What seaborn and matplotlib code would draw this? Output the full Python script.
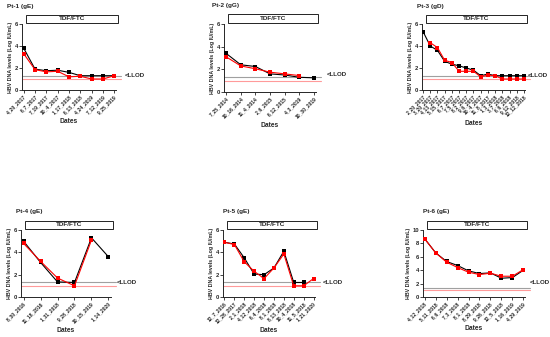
import numpy as np
import pandas as pd
import matplotlib
import matplotlib.pyplot as plt
import seaborn as sns
from matplotlib.patches import Rectangle

matplotlib.use('Agg')

# ==========================================================
# DATA
# ==========================================================
pt1_dates = ["4_20_2017", "6_7_2017", "7_19_2017", "10_4_2017", "1_17_2018",
             "6_13_2018", "4_24_2019", "7_12_2019", "9_25_2019"]
pt1_black = [3.8, 1.9, 1.75, 1.8, 1.6, 1.3, 1.3, 1.3, 1.3]
pt1_red = [3.3, 1.85, 1.65, 1.7, 1.2, 1.25, 1.0, 1.0, 1.3]

pt2_dates = ["7_25_2014", "10_16_2014", "11_4_2014", "2_6_2015", "6_12_2015",
             "4_3_2019", "10_30_2019"]
pt2_black = [3.4, 2.4, 2.25, 1.6, 1.5, 1.3, 1.25]
pt2_red = [3.1, 2.3, 2.05, 1.75, 1.6, 1.45, np.nan]

pt3_dates = ["2_20_2017", "3_20_2017", "4_13_2017", "5_15_2017", "6_7_2017",
             "7_5_2017", "8_2_2017", "9_6_2017", "10_4_2017", "11_8_2017",
             "1_3_2018", "3_7_2018", "6_6_2018", "9_12_2018", "12_12_2018"]
pt3_black = [5.3, 4.0, 3.6, 2.6, 2.35, 2.2, 2.0, 1.8, 1.3, 1.45, 1.3, 1.3, 1.3, 1.3, 1.3]
pt3_red = [np.nan, 4.3, 3.85, 2.7, 2.5, 1.7, 1.7, 1.7, 1.2, 1.35, 1.3, 1.0, 1.0, 1.0, 1.0]

pt4_dates = ["8_30_2016", "11_18_2016", "1_31_2018", "9_28_2018", "10_15_2019", "1_14_2020"]
pt4_black = [5.0, 3.1, 1.35, 1.3, 5.3, 3.6]
pt4_red = [4.8, 3.2, 1.7, 1.0, 5.1, np.nan]

pt5_dates = ["12_7_2016", "12_28_2017", "2_1_2018", "4_12_2018", "6_4_2018",
             "8_1_2018", "8_13_2018", "10_4_2018", "11_5_2018", "1_21_2020"]
pt5_black = [4.9, 4.75, 3.5, 2.05, 2.0, 2.6, 4.1, 1.3, 1.3, np.nan]
pt5_red = [4.9, 4.7, 3.15, 2.3, 1.65, 2.6, 3.85, 1.0, 1.0, 1.65]

pt6_dates = ["4_12_2018", "5_11_2018", "6_6_2018", "7_3_2018", "8_1_2018",
             "8_29_2018", "9_26_2018", "12_5_2018", "1_16_2019", "4_29_2019"]
pt6_black = [8.7, 6.6, 5.3, 4.7, 3.9, 3.5, 3.6, 2.8, 2.9, 4.0]
pt6_red = [8.7, 6.6, 5.2, 4.4, 3.7, 3.35, 3.55, 3.1, 3.1, 4.1]

titles = ["Pt-1 (gE)", "Pt-2 (gG)", "Pt-3 (gD)", "Pt-4 (gE)", "Pt-5 (gE)", "Pt-6 (gE)"]
treatment = "TDF/FTC"
llod_gray = 1.3
llod_red = 1.0

# ==========================================================
# CONFIGURATION
# ==========================================================
sns.set_style("ticks")
plt.rcParams['font.family'] = ['Liberation Sans', 'DejaVu Sans']
plt.rcParams['font.weight'] = 'bold'

W, H = 550, 337
fig = plt.figure(figsize=(5.5, 3.37), dpi=100)


def px_axes(left, top, right, bottom):
    return fig.add_axes([left / W, 1 - bottom / H, (right - left) / W, (bottom - top) / H])


def draw_panel(ax, dates, black, red, title, ymax, llod_x, llod_y, title_x):
    n = len(dates)
    df = pd.DataFrame({
        "x": list(range(n)) * 2,
        "y": list(black) + list(red),
        "series": ["black"] * n + ["red"] * n,
    }).dropna()

    ax.axhline(llod_gray, color="#a0a0a0", lw=0.8, xmin=0, xmax=1.05, clip_on=False)
    ax.axhline(llod_red, color="#ff9a9a", lw=0.8, xmin=0, xmax=1.05, clip_on=False)

    sns.lineplot(data=df[df.series == "black"], x="x", y="y", color="black",
                 marker="s", markersize=2.8, markeredgewidth=0, lw=0.8,
                 sort=False, ax=ax, zorder=3)
    sns.lineplot(data=df[df.series == "red"], x="x", y="y", color="red",
                 marker="s", markersize=2.8, markeredgewidth=0, lw=0.8,
                 sort=False, ax=ax, zorder=4)

    ax.set_xlim(-0.15, n - 1 + 0.15)
    ax.set_ylim(0, ymax)
    ax.set_yticks(np.arange(0, ymax + 0.1, 2))
    ax.set_xticks(range(n))
    ax.set_xticklabels(dates, rotation=45, ha="right", rotation_mode="anchor", fontsize=3.6)
    ax.tick_params(axis="y", labelsize=4.2, length=2, width=0.6, pad=1)
    ax.tick_params(axis="x", length=2, width=0.6, pad=1)
    ax.set_xlabel("Dates", fontsize=4.8, fontweight="bold", labelpad=2)
    ax.set_ylabel("HBV DNA levels (Log IU/mL)", fontsize=3.8, fontweight="bold", labelpad=1)
    for s in ["left", "bottom"]:
        ax.spines[s].set_linewidth(0.7)
    sns.despine(ax=ax)

    ax.add_patch(Rectangle((0.04, 1.02), 0.98, 0.12, transform=ax.transAxes,
                           fill=False, lw=0.6, edgecolor="black", clip_on=False))
    ax.text(0.53, 1.08, treatment, transform=ax.transAxes, ha="center", va="center",
            fontsize=4.6, fontweight="bold")
    ax.text(title_x, 1.27, title, transform=ax.transAxes, ha="left", va="center",
            fontsize=4.6, fontweight="bold")
    ax.text(llod_x, llod_y, "<LLOD", transform=ax.get_yaxis_transform(),
            ha="left", va="center", fontsize=4.4, fontweight="bold")


panels = [
    (px_axes(22, 24, 116, 90), pt1_dates, pt1_black, pt1_red, 6, 1.09, 1.3, -0.16),
    (px_axes(224, 24, 316, 92), pt2_dates, pt2_black, pt2_red, 6, 1.12, 1.5, -0.13),
    (px_axes(422, 24, 525, 90), pt3_dates, pt3_black, pt3_red, 6, 1.03, 1.35, -0.05),
    (px_axes(21, 230, 111, 297), pt4_dates, pt4_black, pt4_red, 6, 1.06, 1.3, -0.05),
    (px_axes(223, 230, 315, 297), pt5_dates, pt5_black, pt5_red, 6, 1.08, 1.3, 0.0),
    (px_axes(423, 230, 525, 297), pt6_dates, pt6_black, pt6_red, 10, 1.05, 2.1, 0.0),
]

for (ax, d, b, r, ymax, lx, ly, tx), t in zip(panels, titles):
    draw_panel(ax, d, b, r, t, ymax, lx, ly, tx)

fig.savefig("out.png", dpi=100)
